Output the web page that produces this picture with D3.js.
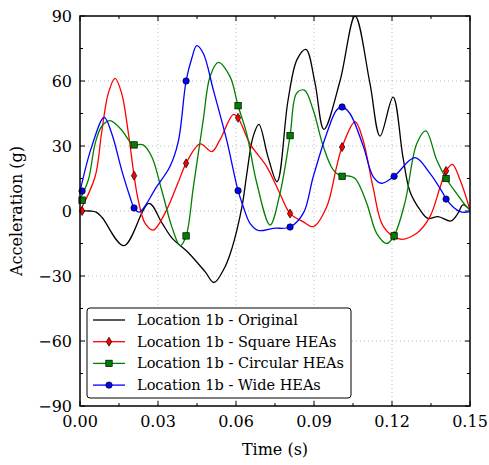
<!DOCTYPE html>
<html lang="en">
<head>
<meta charset="UTF-8">
<title>Acceleration</title>
<script src="https://d3js.org/d3.v7.min.js"></script>
<style>
  body { margin: 0; background: #fff; }
  text { font-family: "DejaVu Serif", "Liberation Serif", serif; fill: #000; }
</style>
</head>
<body>
<div id="chart"></div>
<script>
// time (s) and acceleration (g)
var origT = [0, 0.0038, 0.0062, 0.0085, 0.0169, 0.0265, 0.0315, 0.0354, 0.0415, 0.0481, 0.0515, 0.0558, 0.0585, 0.0623, 0.0642, 0.0665, 0.0688, 0.0723, 0.0758, 0.08, 0.0835, 0.0869, 0.0904, 0.0938, 0.1, 0.1058, 0.1115, 0.1154, 0.1204, 0.1242, 0.1269, 0.1308, 0.1338, 0.1377, 0.1427, 0.1454, 0.1473, 0.15];
var origG = [0, 0, -0.5, -3, -16, 3.5, -5.5, -12.5, -19, -28, -33, -25.7, -17, 2, 17.5, 34, 40, 25, 13.5, 51, 70, 74.6, 59, 37.7, 60, 90, 59, 34.6, 52.6, 25, 9, 0.5, -3.4, -2.6, -4.6, -1, 2.8, 0.5];

var squareT = [0, 0.0058, 0.0083, 0.0109, 0.0135, 0.016, 0.0186, 0.0208, 0.0224, 0.025, 0.0282, 0.0327, 0.0377, 0.0408, 0.0462, 0.0507, 0.0538, 0.059, 0.0608, 0.0654, 0.0718, 0.0769, 0.0808, 0.0859, 0.0897, 0.0949, 0.0987, 0.1008, 0.1058, 0.1088, 0.1127, 0.1167, 0.1231, 0.1295, 0.1346, 0.1385, 0.1408, 0.1432, 0.1462, 0.15];
var squareG = [0, 15.8, 36, 54.4, 61.2, 54.4, 36, 16.3, 5, -5.6, -8.8, -1, 13, 22, 31, 27.4, 32.8, 44.6, 43, 31, 20.5, 8, -1.2, -5, -7.2, 2, 20.5, 29.5, 41.2, 33, 11, -7.2, -13, -10.3, -2.6, 11, 18.5, 21.5, 14.3, 0.5];

var circT = [0, 0.0032, 0.0058, 0.0083, 0.0115, 0.016, 0.0192, 0.0209, 0.0243, 0.0276, 0.0314, 0.0353, 0.0385, 0.0408, 0.0436, 0.0474, 0.05, 0.0532, 0.0577, 0.0608, 0.0641, 0.068, 0.0731, 0.0769, 0.0808, 0.0833, 0.0863, 0.0897, 0.0936, 0.0974, 0.1008, 0.1026, 0.1058, 0.1103, 0.1141, 0.118, 0.1208, 0.125, 0.1295, 0.133, 0.1372, 0.1408, 0.1449, 0.1481, 0.15];
var circG = [5.5, 14.3, 31, 39, 41.7, 37.4, 32, 30.6, 30.5, 25, 9.7, -7.2, -16, -11.5, 11, 42, 62, 68.6, 62, 48.6, 35.8, 12.8, -6.5, 8, 34.8, 54.3, 55.8, 46.6, 29.7, 19, 16, 16.2, 15, 3.5, -10.3, -15, -11.5, 4, 31, 37, 23.5, 15, 8, 2.8, 0.5];

var wideT = [0, 0.0045, 0.0093, 0.0122, 0.016, 0.0192, 0.0208, 0.0228, 0.0295, 0.0346, 0.0378, 0.0408, 0.043, 0.0449, 0.0474, 0.0513, 0.0564, 0.0608, 0.0628, 0.0654, 0.0686, 0.0743, 0.0808, 0.0859, 0.0897, 0.0949, 0.0987, 0.1008, 0.1038, 0.109, 0.1128, 0.116, 0.1208, 0.1288, 0.1346, 0.1397, 0.1408, 0.1462, 0.15];
var wideG = [9, 29.7, 43.2, 35.8, 19, 6.6, 1.4, -0.5, 11.2, 20.5, 32, 60, 70.5, 76.3, 72.8, 55.8, 32.8, 9.4, 2, -5.7, -9, -8, -7.4, -1, 15.8, 35.8, 46.6, 48, 45, 29.7, 15.8, 12.8, 16, 24.6, 17.4, 8, 5.5, -0.3, -0.3];

// marker positions
var markerT = [0.0008, 0.0208, 0.0408, 0.0608, 0.0808, 0.1008, 0.1208, 0.1408];
var squareMk = [0, 16.3, 22, 43, -1.2, 29.5, -11.5, 18.5];
var circMk = [5, 30.5, -11.5, 48.6, 34.8, 16, -11.5, 15];
var wideMk = [9.2, 1.4, 60, 9.4, -7.4, 48, 16, 5.5];

var labels = ["Location 1b - Original", "Location 1b - Square HEAs", "Location 1b - Circular HEAs", "Location 1b - Wide HEAs"];
var colors = ["#000000", "#ff0000", "#008000", "#0000ff"];
var xTicks = [0, 0.03, 0.06, 0.09, 0.12, 0.15];
var yTicks = [-90, -60, -30, 0, 30, 60, 90];

var width = 489, height = 465;
var margin = {left: 80, right: 19, top: 16, bottom: 59};
var pw = width - margin.left - margin.right;
var ph = height - margin.top - margin.bottom;

var svg = d3.select("#chart").append("svg")
    .attr("width", width)
    .attr("height", height);

var x = d3.scaleLinear().domain([0, 0.15]).range([0, pw]);
var y = d3.scaleLinear().domain([-90, 90]).range([ph, 0]);

var g = svg.append("g").attr("transform", "translate(" + margin.left + "," + margin.top + ")");

svg.append("defs").append("clipPath").attr("id", "clip")
    .append("rect").attr("width", pw).attr("height", ph);

// grid
g.selectAll(".gx").data(xTicks.slice(1, -1)).enter().append("line")
    .attr("x1", d => x(d)).attr("x2", d => x(d))
    .attr("y1", 0).attr("y2", ph)
    .attr("stroke", "#bbb").attr("stroke-width", 1).attr("stroke-dasharray", "1,3");
g.selectAll(".gy").data(yTicks.slice(1, -1)).enter().append("line")
    .attr("y1", d => y(d)).attr("y2", d => y(d))
    .attr("x1", 0).attr("x2", pw)
    .attr("stroke", "#bbb").attr("stroke-width", 1).attr("stroke-dasharray", "1,3");

// ticks on every side, pointing in
var xMinor = d3.range(0, 0.1501, 0.015);
var yMinor = d3.range(-90, 91, 15);
var tk = g.append("g").attr("stroke", "#000").attr("stroke-width", 1);
xMinor.forEach(function (d, i) {
    var len = i % 2 == 0 ? 5 : 3;
    tk.append("line").attr("x1", x(d)).attr("x2", x(d)).attr("y1", ph).attr("y2", ph - len);
    tk.append("line").attr("x1", x(d)).attr("x2", x(d)).attr("y1", 0).attr("y2", len);
});
yMinor.forEach(function (d, i) {
    var len = i % 2 == 0 ? 5 : 3;
    tk.append("line").attr("y1", y(d)).attr("y2", y(d)).attr("x1", 0).attr("x2", len);
    tk.append("line").attr("y1", y(d)).attr("y2", y(d)).attr("x1", pw).attr("x2", pw - len);
});

// tick labels
g.selectAll(".xl").data(xTicks).enter().append("text")
    .attr("x", d => x(d)).attr("y", ph + 21)
    .attr("text-anchor", "middle").attr("font-size", 16)
    .text(d => d.toFixed(2));
g.selectAll(".yl").data(yTicks).enter().append("text")
    .attr("x", -8).attr("y", d => y(d) + 6)
    .attr("text-anchor", "end").attr("font-size", 16)
    .text(d => d < 0 ? "\u2212" + Math.abs(d) : d);

// axis titles
svg.append("text")
    .attr("x", margin.left + pw / 2).attr("y", 455)
    .attr("text-anchor", "middle").attr("font-size", 16)
    .text("Time (s)");
svg.append("text")
    .attr("transform", "translate(22," + (margin.top + ph / 2) + ") rotate(-90)")
    .attr("text-anchor", "middle").attr("font-size", 16)
    .text("Acceleration (g)");

// curves
var line = d3.line()
    .x(d => x(d[0])).y(d => y(d[1]))
    .curve(d3.curveCatmullRom.alpha(0.5));

var series = [
    {t: origT, v: origG, mk: null, shape: null},
    {t: squareT, v: squareG, mk: squareMk, shape: "diamond"},
    {t: circT, v: circG, mk: circMk, shape: "square"},
    {t: wideT, v: wideG, mk: wideMk, shape: "circle"}
];

var plot = g.append("g").attr("clip-path", "url(#clip)");

function drawMarker(sel, shape, color) {
    if (shape == "diamond") {
        sel.append("path").attr("d", "M0,-4.5L2.7,0L0,4.5L-2.7,0Z");
    } else if (shape == "square") {
        sel.append("rect").attr("x", -3.2).attr("y", -3.2).attr("width", 6.4).attr("height", 6.4);
    } else if (shape == "circle") {
        sel.append("circle").attr("r", 3.2);
    }
    sel.selectAll("*").attr("fill", color).attr("stroke", "#000").attr("stroke-width", 0.7);
}

series.forEach(function (s, i) {
    var pts = s.t.map((t, j) => [t, s.v[j]]);
    plot.append("path")
        .attr("d", line(pts))
        .attr("fill", "none")
        .attr("stroke", colors[i])
        .attr("stroke-width", 1.3);
    if (s.mk) {
        markerT.forEach(function (t, j) {
            var m = g.append("g").attr("transform", "translate(" + x(t) + "," + y(s.mk[j]) + ")");
            drawMarker(m, s.shape, colors[i]);
        });
    }
});

// frame
g.append("rect").attr("width", pw).attr("height", ph)
    .attr("fill", "none").attr("stroke", "#000").attr("stroke-width", 1.5);

// legend
var lg = svg.append("g").attr("transform", "translate(87,308)");
lg.append("rect").attr("width", 264).attr("height", 90).attr("rx", 3)
    .attr("fill", "#fff").attr("stroke", "#000").attr("stroke-width", 1);
labels.forEach(function (lab, i) {
    var yy = 12 + i * 21.7;
    lg.append("line").attr("x1", 6).attr("x2", 38).attr("y1", yy).attr("y2", yy)
        .attr("stroke", colors[i]).attr("stroke-width", 1.3);
    if (series[i].shape) {
        var m = lg.append("g").attr("transform", "translate(22," + yy + ")");
        drawMarker(m, series[i].shape, colors[i]);
    }
    lg.append("text").attr("x", 50).attr("y", yy + 5)
        .attr("font-size", 14.5).text(lab);
});
</script>
</body>
</html>
